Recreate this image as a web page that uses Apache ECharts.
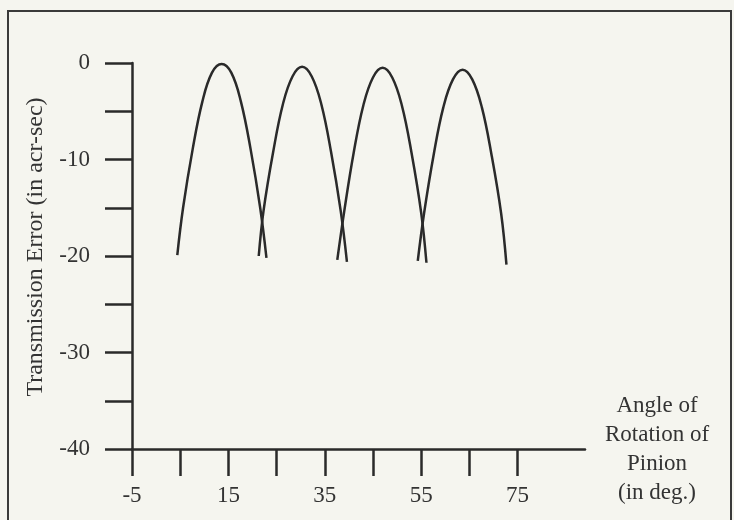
<!DOCTYPE html>
<html>
<head>
<meta charset="utf-8">
<style>
  html, body { margin: 0; padding: 0; background: #f5f5ef; }
  #chart { width: 734px; height: 520px; }
</style>
<script src="https://cdn.jsdelivr.net/npm/echarts@6/dist/echarts.min.js"></script>
</head>
<body>
<div id="chart"></div>
<script>
// tick and label values
var xTicks = [-5, 5, 15, 25, 35, 45, 55, 65, 75];
var xLabels = [-5, 15, 35, 55, 75];
var yLabels = [-40, -30, -20, -10, 0];

// transmission error per tooth mesh, [angle deg, error arc-sec]
var mesh1 = [[4.4, -19.9], [5.6, -15.0], [7.6, -8.9], [9.6, -4.0], [11.6, -1.0], [13.6, -0.1],
    [15.6, -1.0], [17.6, -4.0], [19.6, -8.9], [21.6, -15.0], [22.9, -20.2]];
var mesh2 = [[21.3, -20.0], [22.3, -15.3], [24.3, -9.2], [26.3, -4.3], [28.3, -1.4], [30.3, -0.4],
    [32.3, -1.4], [34.3, -4.3], [36.3, -9.2], [38.3, -15.3], [39.6, -20.6]];
var mesh3 = [[37.6, -20.4], [39.0, -15.5], [41.0, -9.3], [43.0, -4.4], [45.0, -1.5], [47.0, -0.5],
    [49.0, -1.5], [51.0, -4.4], [53.0, -9.3], [55.0, -15.5], [56.1, -20.7]];
var mesh4 = [[54.3, -20.5], [55.6, -15.6], [57.6, -9.5], [59.6, -4.6], [61.6, -1.7], [63.6, -0.7],
    [65.6, -1.7], [67.6, -4.6], [69.6, -9.5], [71.6, -15.6], [72.7, -20.9]];

var ink = "#2a2a2a";
var font = "Liberation Serif";

function curve(data) {
    return {
        type: "line",
        data: data,
        smooth: 0.4,
        symbol: "none",
        lineStyle: { color: ink, width: 2.5 }
    };
}

var myChart = echarts.init(document.getElementById("chart"));
var option = {
    backgroundColor: "#f5f5ef",
    animation: false,
    // scanned figure frame
    graphic: [{
        type: "rect",
        shape: { x: 8, y: 11, width: 723, height: 520 },
        style: { fill: null, stroke: "#3a3a3a", lineWidth: 2 }
    }],
    grid: { left: 132, top: 63, right: 149, bottom: 71 },
    xAxis: {
        type: "value",
        min: -5,
        max: 89,
        name: "Angle of\nRotation of\nPinion\n(in deg.)",
        nameLocation: "end",
        nameGap: 72,
        nameTextStyle: {
            fontFamily: font, fontSize: 23, color: "#333",
            align: "center", lineHeight: 29, padding: [0, 0, 22, 0]
        },
        splitLine: { show: false },
        axisLine: { onZero: false, lineStyle: { color: ink, width: 2.5 } },
        axisTick: { customValues: xTicks, length: 27, lineStyle: { color: ink, width: 2.5 } },
        axisLabel: { customValues: xLabels, margin: 35, fontFamily: font, fontSize: 23, color: "#333" }
    },
    yAxis: {
        type: "value",
        min: -40,
        max: 0,
        interval: 5,
        name: "Transmission Error (in acr-sec)",
        nameLocation: "middle",
        nameGap: 84,
        nameTextStyle: { fontFamily: font, fontSize: 24, color: "#333", padding: [0, 0, 0, 18] },
        splitLine: { show: false },
        axisLine: { show: true, onZero: false, lineStyle: { color: ink, width: 2.5 } },
        axisTick: { show: true, length: 27, lineStyle: { color: ink, width: 2.5 } },
        axisLabel: { customValues: yLabels, margin: 42, fontFamily: font, fontSize: 23, color: "#333" }
    },
    series: [curve(mesh1), curve(mesh2), curve(mesh3), curve(mesh4)]
};
myChart.setOption(option);
</script>
</body>
</html>
